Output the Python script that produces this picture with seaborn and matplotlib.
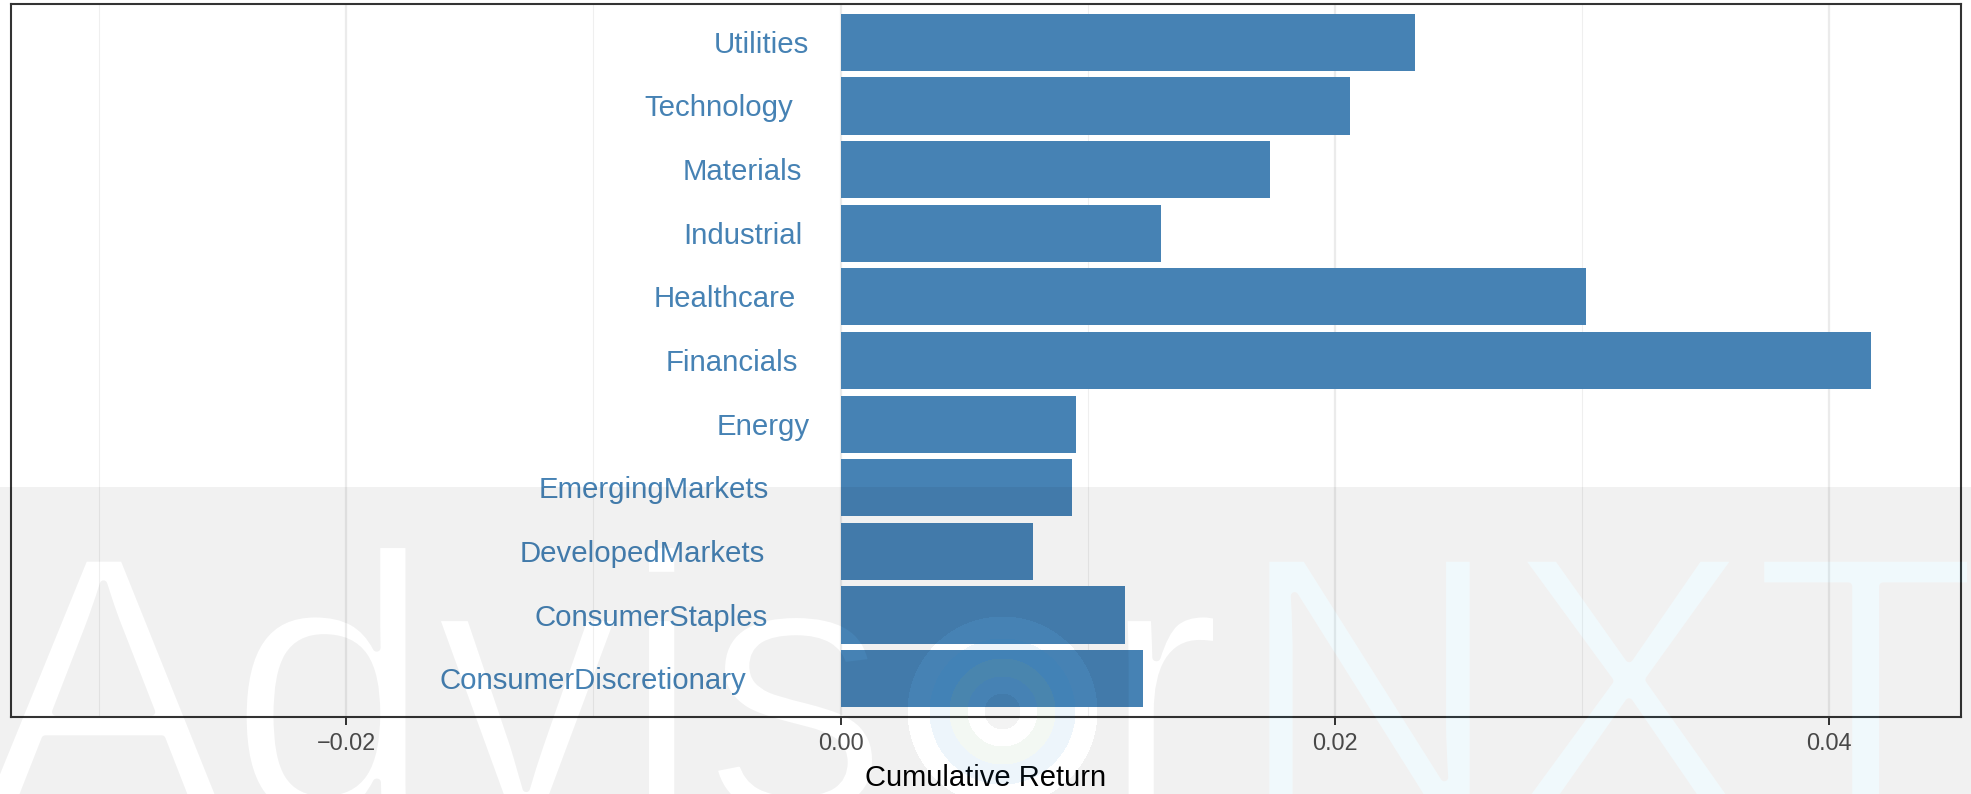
import numpy as np
import pandas as pd
import matplotlib
matplotlib.use("Agg")
import matplotlib.pyplot as plt
import matplotlib.transforms as mtransforms
import matplotlib.patheffects as pe
from matplotlib.figure import Figure
from matplotlib.backends.backend_agg import FigureCanvasAgg
import seaborn as sns

# ---------------- data ----------------
categories = ["Utilities", "Technology", "Materials", "Industrial", "Healthcare",
              "Financials", "Energy", "EmergingMarkets", "DevelopedMarkets",
              "ConsumerStaples", "ConsumerDiscretionary"]
returns = [0.02325, 0.02063, 0.01736, 0.01295, 0.03016,
           0.04171, 0.00951, 0.00935, 0.00777, 0.01150, 0.01222]
x_ticks = [-0.02, 0.0, 0.02, 0.04]
x_tick_labels = ["\u22120.02", "0.00", "0.02", "0.04"]
x_minor_ticks = [-0.03, -0.01, 0.01, 0.03]
x_title = "Cumulative Return"
watermark_white = ["Advis", "r"]
watermark_tint = "NXT"

# ---------------- figure ----------------
W, H, DPI = 1971, 794, 100
sns.set_theme(style="white")
plt.rcParams["font.family"] = ["Liberation Sans", "DejaVu Sans"]

BAR = "#4682B4"
fig = plt.figure(figsize=(W / DPI, H / DPI), dpi=DPI)
fig.patch.set_facecolor("white")
ax = fig.add_axes([11 / W, 77 / H, 1950 / W, 713 / H])
ax.set_facecolor("white")

df = pd.DataFrame({"sector": categories, "ret": returns})
sns.barplot(data=df, y="sector", x="ret", order=categories, color=BAR,
            saturation=1, width=0.9, orient="h", ax=ax, linewidth=0, zorder=3)

ax.set_xlim(-0.03357, 0.04534)
ax.set_ylim(len(categories) - 0.4, -0.6)
ax.set_xticks(x_ticks)
ax.set_xticklabels(x_tick_labels)
ax.set_xticks(x_minor_ticks, minor=True)
ax.set_yticks([])
ax.set_ylabel("")
ax.set_xlabel(x_title, fontsize=21, color="black")
ax.xaxis.set_label_coords(0.5, -(764 - 717) / 713)

ax.set_axisbelow(True)
ax.grid(axis="x", which="major", color="#EBEBEB", linewidth=1.6, zorder=0)
ax.grid(axis="x", which="minor", color="#EFEFEF", linewidth=0.8, zorder=0)
ax.grid(axis="y", visible=False)
for s in ax.spines.values():
    s.set_visible(True)
    s.set_color("#333333")
    s.set_linewidth(1.5)
ax.tick_params(axis="x", which="major", bottom=True, length=5.5, width=1.4,
               color="#333333", labelsize=16.8, labelcolor="#4D4D4D", pad=5.5,
               direction="out")
ax.tick_params(axis="x", which="minor", bottom=False, length=0)
ax.tick_params(axis="y", left=False, labelleft=False)

# category labels inside the panel, right-aligned left of zero (hjust ~1.3)
texts = []
for i, name in enumerate(categories):
    t = ax.text(0, i, name, ha="right", va="baseline", fontsize=21.2,
                color=BAR, zorder=4)
    texts.append(t)
fig.canvas.draw()
for t in texts:
    w = t.get_window_extent().width
    t.set_transform(mtransforms.offset_copy(ax.transData, fig,
                                            x=-(0.3 * w + 2.5), y=-10.5,
                                            units="dots"))

# ---------------- watermark overlay ----------------
mfig = Figure(figsize=(W / DPI, H / DPI), dpi=DPI)
mcanvas = FigureCanvasAgg(mfig)
mfig.patch.set_facecolor("black")
thin = [pe.Stroke(linewidth=5.5, foreground="black")]
wm = dict(fontsize=268, family="Liberation Sans", va="baseline", ha="left",
          path_effects=thin)
base_y = 1 - 814 / H
mfig.text(-21 / W, base_y, watermark_white[0], color=(1, 0, 0), **wm)
mfig.text(1099 / W, base_y, watermark_white[1], color=(1, 0, 0), **wm)
mfig.text(1235 / W, base_y, watermark_tint, color=(0, 1, 0), **wm)
mcanvas.draw()
m = np.asarray(mcanvas.buffer_rgba()).astype(float) / 255.0
Hm, Wm = m.shape[:2]
hole = m[..., 0].copy()
tint = m[..., 1].copy()

yy, xx = np.mgrid[0:Hm, 0:Wm]
band = (yy >= 487).astype(float)
rgb = np.zeros((Hm, Wm, 3))
alpha = np.full((Hm, Wm), 0.055)

tint_col = np.array([5, 155, 205]) / 255.0
rgb = rgb * (1 - tint[..., None]) + tint_col * tint[..., None]
alpha = alpha * (1 - tint) + 0.06 * tint

# logo rings
d = np.hypot(xx - 1002, yy - 711)
ring_hole = ((d >= 73) & (d < 95)) | ((d >= 18) & (d < 35))
ring_blue = (d >= 53) & (d < 73)
ring_green = (d >= 35) & (d < 53)
core = d < 18
rgb[ring_blue] = np.array([30, 130, 210]) / 255.0
alpha[ring_blue] = 0.08
rgb[ring_green] = np.array([110, 175, 110]) / 255.0
alpha[ring_green] = 0.08
rgb[core] = 0.0
alpha[core] = 0.05
hole = np.maximum(hole, ring_hole.astype(float))

alpha = alpha * (1 - hole) * band
overlay = np.dstack([rgb, alpha])
fig.figimage(overlay, xo=0, yo=0, origin="upper", zorder=10)

fig.savefig("out.png", dpi=DPI, facecolor="white")
